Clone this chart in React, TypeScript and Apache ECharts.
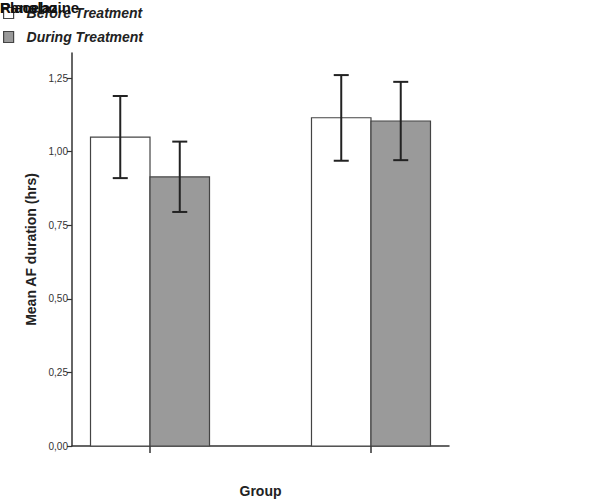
import React, { useEffect, useRef } from "react";
import * as echarts from "echarts";

const groups = [0, 1];
const seriesNames = ["Before Treatment", "During Treatment"];
const beforeMean = [1.049, 1.115];
const beforeLow = [0.91, 0.969];
const beforeHigh = [1.189, 1.26];
const duringMean = [0.914, 1.104];
const duringLow = [0.795, 0.971];
const duringHigh = [1.034, 1.237];
const yTicks = [0, 0.25, 0.5, 0.75, 1.0, 1.25];
const titleWords = ["Ranolazine", "Placebo"];

const FONT = 'Arial, "Liberation Sans", sans-serif';

function makeRender(side: number, fill: string) {
  return (params: any, api: any) => {
    const x = api.value(0);
    const mean = api.value(1);
    const lo = api.value(2);
    const hi = api.value(3);
    const base = api.coord([x, 0]);
    const top = api.coord([x, mean]);
    const pLo = api.coord([x, lo]);
    const pHi = api.coord([x, hi]);
    const w = 59.5;
    const x0 = side === 0 ? base[0] - w : base[0];
    const cx = x0 + w / 2;
    const cap = 7.5;
    const errStyle = { stroke: "#222", lineWidth: 2 };
    return {
      type: "group",
      children: [
        {
          type: "rect",
          shape: { x: x0, y: top[1], width: w, height: base[1] - top[1] },
          style: { fill, stroke: "#444", lineWidth: 1.2 },
        },
        { type: "line", shape: { x1: cx, y1: pLo[1], x2: cx, y2: pHi[1] }, style: errStyle },
        { type: "line", shape: { x1: cx - cap, y1: pHi[1], x2: cx + cap, y2: pHi[1] }, style: errStyle },
        { type: "line", shape: { x1: cx - cap, y1: pLo[1], x2: cx + cap, y2: pLo[1] }, style: errStyle },
      ],
    };
  };
}

export default function App() {
  const ref = useRef<HTMLDivElement>(null);
  useEffect(() => {
    document.body.style.margin = "0";
    if (!ref.current) return;
    const chart = echarts.init(ref.current, undefined, { renderer: "svg" });
    const fills = ["#ffffff", "#9a9a9a"];
    const option: any = {
      animation: false,
      backgroundColor: "#ffffff",
      grid: { left: 72, right: 151, top: 53, bottom: 58 },
      legend: {
        orient: "vertical",
        left: 3,
        top: 6,
        padding: 0,
        itemWidth: 10,
        itemHeight: 11,
        itemGap: 10,
        icon: "rect",
        textStyle: {
          fontFamily: FONT,
          fontSize: 14,
          fontWeight: "bold",
          fontStyle: "italic",
          color: "#222",
          padding: [0, 0, 0, 8],
        },
        data: seriesNames.map((n, i) => ({
          name: n,
          itemStyle: { color: fills[i], borderColor: "#444", borderWidth: 1.2 },
        })),
      },
      xAxis: {
        type: "value",
        min: -0.353,
        max: 1.353,
        name: "Group",
        nameLocation: "middle",
        nameGap: 38,
        nameTextStyle: { fontFamily: FONT, fontSize: 14, fontWeight: "bold", color: "#222" },
        axisLine: { show: true, onZero: false, lineStyle: { color: "#333", width: 1.5 } },
        axisTick: { show: true, length: 7, customValues: groups, lineStyle: { color: "#333", width: 1.5 } },
        axisLabel: { show: false },
        splitLine: { show: false },
      },
      yAxis: {
        type: "value",
        min: 0,
        max: 1.335,
        name: "Mean AF duration (hrs)",
        nameLocation: "middle",
        nameGap: 34,
        nameTextStyle: { fontFamily: FONT, fontSize: 14, fontWeight: "bold", color: "#222" },
        axisLine: { show: true, onZero: false, lineStyle: { color: "#333", width: 1.5 } },
        axisTick: { show: true, length: 5, customValues: yTicks, lineStyle: { color: "#333", width: 1.2 } },
        axisLabel: {
          customValues: yTicks,
          margin: 4,
          fontFamily: FONT,
          fontSize: 10,
          color: "#333",
          formatter: (v: number) => v.toFixed(2).replace(".", ","),
        },
        splitLine: { show: false },
      },
      graphic: titleWords.map((t) => ({
        type: "text",
        left: 0,
        top: 0,
        z: 100,
        style: {
          text: t,
          fontFamily: FONT,
          fontSize: 15,
          fontWeight: "bold",
          fill: "#111",
        },
      })),
      series: [
        {
          name: seriesNames[0],
          type: "custom",
          renderItem: makeRender(0, fills[0]),
          itemStyle: { color: fills[0] },
          encode: { x: 0, y: 1 },
          data: groups.map((g, i) => [g, beforeMean[i], beforeLow[i], beforeHigh[i]]),
        },
        {
          name: seriesNames[1],
          type: "custom",
          renderItem: makeRender(1, fills[1]),
          itemStyle: { color: fills[1] },
          encode: { x: 0, y: 1 },
          data: groups.map((g, i) => [g, duringMean[i], duringLow[i], duringHigh[i]]),
        },
      ],
    };
    chart.setOption(option);
    return () => chart.dispose();
  }, []);
  return <div ref={ref} style={{ width: 600, height: 504 }} />;
}
